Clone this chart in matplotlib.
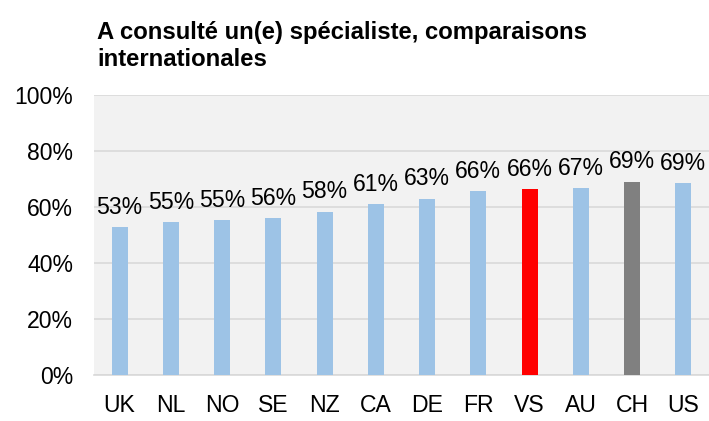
import matplotlib
matplotlib.use("Agg")
import matplotlib.pyplot as plt
import numpy as np

categories = ["UK", "NL", "NO", "SE", "NZ", "CA", "DE", "FR", "VS", "AU", "CH", "US"]
values = [52.7, 54.6, 55.3, 56.0, 58.3, 60.9, 62.9, 65.6, 66.4, 66.8, 69.1, 68.6]
colors = ["#9dc3e6"] * 8 + ["#ff0000", "#9dc3e6", "#808080", "#9dc3e6"]
yticks = [0, 20, 40, 60, 80, 100]
title = "A consulté un(e) spécialiste, comparaisons\ninternationales"

plt.rcParams['font.family'] = ['Liberation Sans', 'DejaVu Sans']

fig = plt.figure(figsize=(7.09, 4.21), dpi=100)
ax = fig.add_axes([94/709, 1 - 375/421, (709 - 94)/709, (375 - 95)/421])
ax.set_facecolor("#f2f2f2")
x = np.arange(len(categories))
ax.bar(x, values, width=0.31, color=colors, zorder=3)
for xi, v in zip(x, values):
    ax.text(xi, v + 3.0, f"{v:.0f}%", ha="center", va="bottom", fontsize=16.6, color="#000000", zorder=4)

ax.set_xlim(-0.5, len(categories) - 0.5)
ax.set_ylim(0, 100)
ax.set_yticks(yticks)
ax.set_yticklabels([f"{t}%" for t in yticks], fontsize=16.6)
ax.set_xticks(x)
ax.set_xticklabels(categories, fontsize=16.6)
ax.tick_params(length=0)
ax.tick_params(axis="y", pad=15)
ax.tick_params(axis="x", pad=14)
ax.grid(axis="y", color="#d9d9d9", linewidth=1.2, zorder=0)
for s in ["top", "right", "left"]:
    ax.spines[s].set_visible(False)
ax.spines["bottom"].set_color("#d9d9d9")
ax.spines["bottom"].set_linewidth(1.2)

fig.text(97/709, 1 - 21/421, title, fontsize=17.2, fontweight="bold", ha="left", va="top", linespacing=1.2)

fig.savefig("out.png", dpi=100)
